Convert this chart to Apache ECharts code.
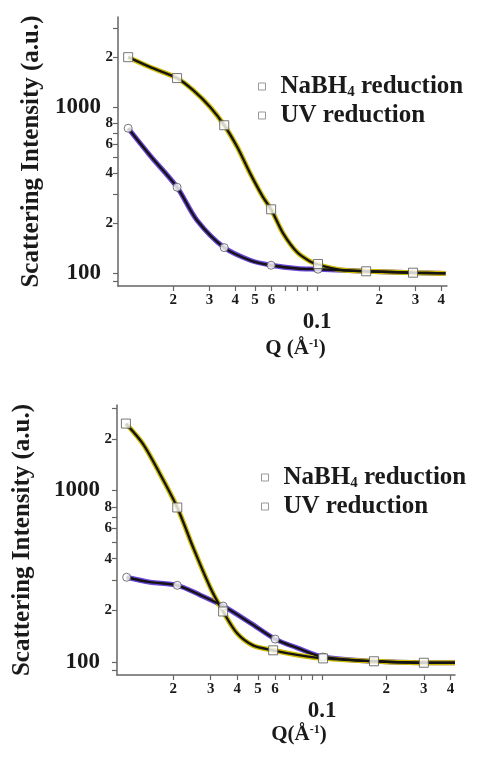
<!DOCTYPE html>
<html>
<head>
<meta charset="utf-8">
<script src="https://cdn.jsdelivr.net/npm/echarts@6.0.0/dist/echarts.min.js"></script>
<style>
  html, body { margin: 0; padding: 0; background: #fff; }
  #main { width: 477px; height: 764px; }
</style>
</head>
<body>
<div id="main"></div>
<script>
// ====== data ======
// top panel
var topQ_nabh4 = [0.0121, 0.0155, 0.0209, 0.025, 0.0303, 0.0354, 0.041, 0.0473, 0.0547, 0.0598, 0.0684, 0.080, 0.0925, 0.101, 0.13, 0.173, 0.292, 0.42];
var topI_nabh4 = [2000, 1741, 1497, 1266, 1000, 779, 574, 400, 287, 243, 174, 134, 118, 113, 105, 103, 101, 100];
var topMarkQ_nabh4 = [0.0121, 0.0209, 0.0354, 0.0598, 0.101, 0.173, 0.292];
var topMarkI_nabh4 = [2000, 1497, 779, 243, 114, 103, 101];

var topQ_uv = [0.0121, 0.0155, 0.0209, 0.0261, 0.0354, 0.0473, 0.0598, 0.080, 0.101, 0.173, 0.292, 0.42];
var topI_uv = [747, 510, 330, 209, 143, 120, 112, 107, 106, 103, 101, 100];
var topMarkQ_uv = [0.0121, 0.0209, 0.0354, 0.0598, 0.101];
var topMarkI_uv = [747, 330, 143, 112, 106];

// bottom panel
var botQ_nabh4 = [0.0120, 0.0144, 0.0173, 0.0209, 0.0248, 0.0298, 0.0343, 0.0399, 0.0474, 0.0589, 0.0763, 0.101, 0.175, 0.3, 0.42];
var botI_nabh4 = [2455, 1876, 1256, 796, 466, 273, 197, 147, 125, 117, 110, 105, 101, 99, 99];
var botMarkQ_nabh4 = [0.0120, 0.0209, 0.0343, 0.0589, 0.101, 0.175, 0.3];
var botMarkI_nabh4 = [2455, 796, 197, 117, 105, 101, 99];

var botQ_uv = [0.0121, 0.0156, 0.0209, 0.0267, 0.0343, 0.046, 0.0602, 0.0763, 0.101, 0.175, 0.3, 0.42];
var botI_uv = [312, 292, 280, 246, 212, 169, 136, 121, 107, 101, 99, 99];
var botMarkQ_uv = [0.0121, 0.0209, 0.0343, 0.0602, 0.101];
var botMarkI_uv = [312, 280, 212, 136, 107];

// ticks
var xTicks = [0.02, 0.03, 0.04, 0.05, 0.06, 0.07, 0.08, 0.09, 0.1, 0.2, 0.3, 0.4];
var xLabels = [0.02, 0.03, 0.04, 0.05, 0.06, 0.1, 0.2, 0.3, 0.4];
var yTicks = [90, 100, 200, 300, 400, 500, 600, 700, 800, 1000, 2000, 3000];
var yLabels = [100, 200, 400, 600, 800, 1000, 2000];

var seriesNames = ['NaBH4 reduction', 'UV reduction'];

function pairs(q, v) {
  var out = [];
  for (var i = 0; i < q.length; i++) out.push([q[i], v[i]]);
  return out;
}

var FONT = 'Liberation Serif';
var TXT = '#1a1a1a';
var AXIS = '#666';

function xFmt(v) {
  var r = Math.round(v * 100) / 100;
  if (Math.abs(r - 0.1) < 1e-6) return '{big|0.1}';
  if (r < 0.1) return '{sm|' + Math.round(r * 100) + '}';
  return '{sm|' + Math.round(r * 10) + '}';
}
function yFmt(v) {
  var r = Math.round(v);
  if (r === 100 || r === 1000) return '{big|' + r + '}';
  if (r >= 1000) return '{sm|' + Math.round(r / 1000) + '}';
  return '{sm|' + Math.round(r / 100) + '}';
}

function makeX(grid, min, max, name, gap) {
  return {
    type: 'log', gridIndex: grid, min: min, max: max,
    name: name, nameLocation: 'middle', nameGap: gap,
    nameTextStyle: {
      fontFamily: FONT, fontWeight: 'bold', fontSize: 21, color: TXT,
      padding: [0, 0, 0, 26],
      rich: { sup: { fontFamily: FONT, fontWeight: 'bold', fontSize: 12, lineHeight: 12, verticalAlign: 'top', color: TXT } }
    },
    axisLine: { lineStyle: { color: AXIS, width: 1.5 } },
    axisTick: { customValues: xTicks, length: 5, lineStyle: { color: AXIS, width: 1.2 } },
    axisLabel: {
      customValues: xLabels, margin: 7, formatter: xFmt,
      rich: {
        sm: { fontFamily: FONT, fontWeight: 'bold', fontSize: 15, color: TXT },
        big: { fontFamily: FONT, fontWeight: 'bold', fontSize: 23, color: TXT, padding: [18, 0, 0, 0] }
      }
    },
    splitLine: { show: false }, minorTick: { show: false }
  };
}
function makeY(grid, min, max, gap) {
  return {
    type: 'log', gridIndex: grid, min: min, max: max,
    name: 'Scattering Intensity (a.u.)', nameLocation: 'middle', nameGap: gap,
    nameTextStyle: { fontFamily: FONT, fontWeight: 'bold', fontSize: 25, color: TXT },
    axisLine: { show: true, lineStyle: { color: AXIS, width: 1.5 } },
    axisTick: { show: true, customValues: yTicks, length: 5, lineStyle: { color: AXIS, width: 1.2 } },
    axisLabel: {
      customValues: yLabels, margin: 5, formatter: yFmt,
      rich: {
        sm: { fontFamily: FONT, fontWeight: 'bold', fontSize: 15, color: TXT },
        big: { fontFamily: FONT, fontWeight: 'bold', fontSize: 23, color: TXT, padding: [0, 12, 0, 0] }
      }
    },
    splitLine: { show: false }, minorTick: { show: false }
  };
}

function curve(name, idx, data, halo) {
  return [{
    name: name, type: 'line', xAxisIndex: idx, yAxisIndex: idx, data: data,
    smooth: 0.3, showSymbol: false, silent: true, z: 2,
    lineStyle: { color: halo, width: 5 }, itemStyle: { color: halo }
  }, {
    name: name, type: 'line', xAxisIndex: idx, yAxisIndex: idx, data: data,
    smooth: 0.3, showSymbol: false, silent: true, z: 3,
    lineStyle: { color: '#141414', width: 2.4 }, itemStyle: { color: '#141414' }
  }];
}
function marks(name, idx, data, shape, size) {
  return {
    name: name, type: 'scatter', xAxisIndex: idx, yAxisIndex: idx, data: data,
    symbol: shape, symbolSize: size, z: 4,
    itemStyle: { color: '#fff', borderColor: '#555', borderWidth: 1 }
  };
}

function legendFmt(name) {
  if (name === 'NaBH4 reduction') return '{n|NaBH}{s|4}{n| reduction}';
  return '{n|' + name + '}';
}
function makeLegend(left, top) {
  return {
    data: seriesNames, orient: 'vertical', left: left, top: top,
    icon: 'rect', itemWidth: 7, itemHeight: 7, itemGap: 3,
    itemStyle: { color: '#fff', borderColor: '#999', borderWidth: 1 },
    formatter: legendFmt,
    textStyle: {
      padding: [0, 0, 0, 10],
      rich: {
        n: { fontFamily: FONT, fontWeight: 'bold', fontSize: 25, lineHeight: 27, color: TXT },
        s: { fontFamily: FONT, fontWeight: 'bold', fontSize: 15, lineHeight: 15, verticalAlign: 'bottom', color: TXT }
      }
    },
    selectedMode: false
  };
}

var chart = echarts.init(document.getElementById('main'));

var series = []
  .concat(curve(seriesNames[1], 0, pairs(topQ_uv, topI_uv), '#6b45d8'))
  .concat(curve(seriesNames[0], 0, pairs(topQ_nabh4, topI_nabh4), '#cdbb00'))
  .concat([marks(seriesNames[1], 0, pairs(topMarkQ_uv, topMarkI_uv), 'circle', 8),
           marks(seriesNames[0], 0, pairs(topMarkQ_nabh4, topMarkI_nabh4), 'rect', 9)])
  .concat(curve(seriesNames[1], 1, pairs(botQ_uv, botI_uv), '#6b45d8'))
  .concat(curve(seriesNames[0], 1, pairs(botQ_nabh4, botI_nabh4), '#cdbb00'))
  .concat([marks(seriesNames[1], 1, pairs(botMarkQ_uv, botMarkI_uv), 'circle', 8),
           marks(seriesNames[0], 1, pairs(botMarkQ_nabh4, botMarkI_nabh4), 'rect', 9)]);

chart.setOption({
  animation: false,
  backgroundColor: '#fff',
  grid: [
    { left: 118, top: 17, width: 329, height: 269 },
    { left: 117, top: 405, width: 338, height: 270 }
  ],
  xAxis: [
    makeX(0, 0.0108, 0.427, 'Q (Å{sup|-1})', 52),
    makeX(1, 0.0109, 0.42, 'Q(Å{sup|-1})', 46)
  ],
  yAxis: [
    makeY(0, 84, 3490, 74),
    makeY(1, 84, 3150, 82)
  ],
  legend: [makeLegend(253, 69), makeLegend(256, 460)],
  series: series
});
</script>
</body>
</html>
